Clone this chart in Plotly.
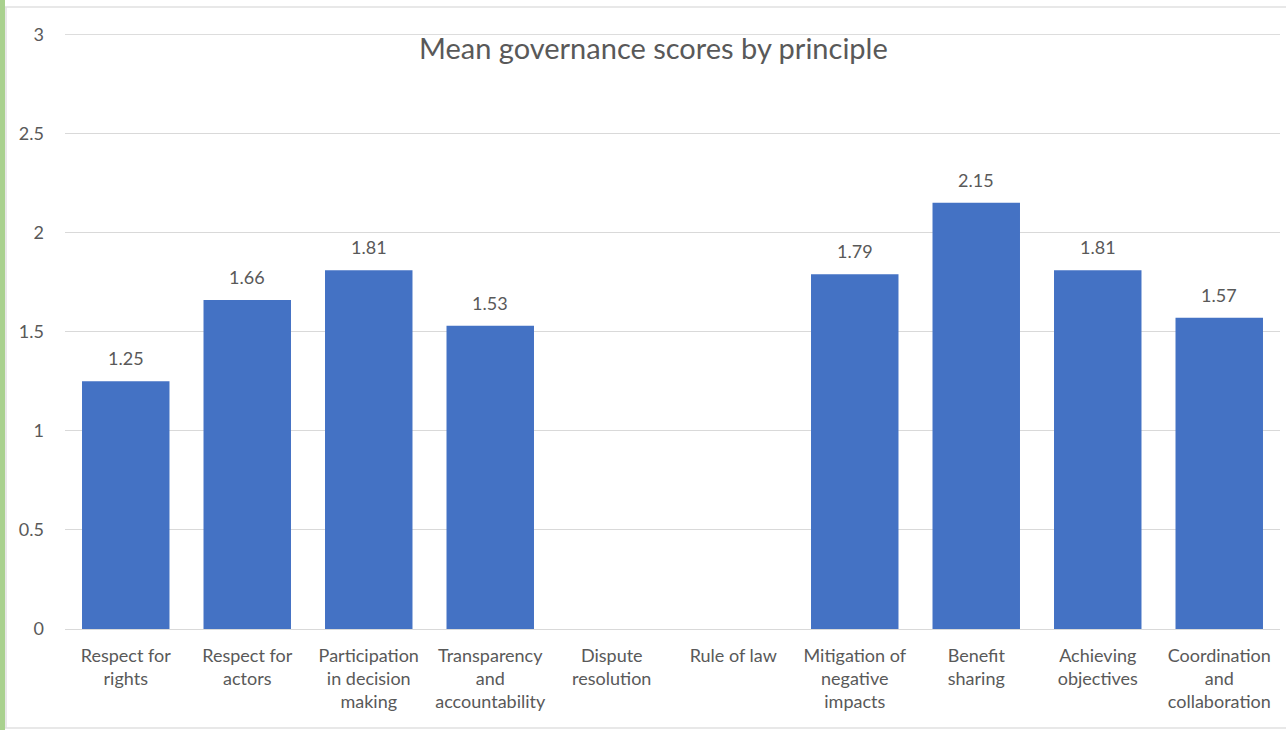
import plotly.graph_objects as go

categories = ["Respect for<br>rights", "Respect for<br>actors", "Participation<br>in decision<br>making",
              "Transparency<br>and<br>accountability", "Dispute<br>resolution", "Rule of law",
              "Mitigation of<br>negative<br>impacts", "Benefit<br>sharing", "Achieving<br>objectives",
              "Coordination<br>and<br>collaboration"]
values = [1.25, 1.66, 1.81, 1.53, None, None, 1.79, 2.15, 1.81, 1.57]
labels = ["1.25", "1.66", "1.81", "1.53", "", "", "1.79", "2.15", "1.81", "1.57"]
y_ticks = [0, 0.5, 1, 1.5, 2, 2.5, 3]
y_tick_labels = ["0", "0.5", "1", "1.5", "2", "2.5", "3"]

W, H = 1286, 730
ML, MR, MT, MB = 65, 6, 34, 101
PW, PH = W - ML - MR, H - MT - MB

def px_x(p):
    return (p - ML) / PW

def px_y(p):
    return (H - MB - p) / PH

FONT = "Lato, 'Open Sans', sans-serif"
GRAY = "#595959"

fig = go.Figure(go.Bar(
    x=categories, y=values,
    marker=dict(color="#4472c4", line=dict(width=0)),
    width=0.72,
))

annotations = [dict(text="Mean governance scores by principle", xref="paper", yref="paper",
                    x=px_x(653), y=px_y(47), xanchor="center", yanchor="middle",
                    showarrow=False, font=dict(size=29, color=GRAY, family=FONT))]
for c, v, t in zip(categories, values, labels):
    if v is None or not t:
        continue
    annotations.append(dict(x=c, y=v, xref="x", yref="y", text=t, showarrow=False,
                            yanchor="middle", yshift=23,
                            font=dict(size=18, color=GRAY, family=FONT)))

fig.update_layout(
    width=W, height=H,
    margin=dict(l=ML, r=MR, t=MT, b=MB),
    paper_bgcolor="white", plot_bgcolor="white",
    showlegend=False,
    font=dict(family=FONT, color=GRAY, size=18),
    xaxis=dict(showgrid=False, showline=True, linecolor="#d9d9d9", linewidth=1,
               tickfont=dict(size=18, color=GRAY), ticks="", tickangle=0,
               ticklabelstandoff=10),
    yaxis=dict(range=[0, 3.002], tickvals=y_ticks, ticktext=y_tick_labels,
               showgrid=True, gridcolor="#d9d9d9", gridwidth=1, zeroline=False,
               showline=False, ticks="", ticklabelstandoff=20,
               tickfont=dict(size=18, color=GRAY)),
    annotations=annotations,
    shapes=[
        dict(type="line", xref="paper", yref="y", x0=0, x1=1, y0=y_ticks[-1], y1=y_ticks[-1],
             line=dict(color="#d9d9d9", width=1), layer="below"),
        dict(type="rect", xref="paper", yref="paper", x0=px_x(0), x1=px_x(5),
             y0=px_y(H), y1=px_y(0), fillcolor="#a9d18e", line=dict(width=0), layer="above"),
        dict(type="line", xref="paper", yref="paper", x0=px_x(5), x1=px_x(W),
             y0=px_y(7), y1=px_y(7), line=dict(color="#e0e0e0", width=1.5)),
        dict(type="line", xref="paper", yref="paper", x0=px_x(5), x1=px_x(W),
             y0=px_y(728), y1=px_y(728), line=dict(color="#e0e0e0", width=1.5)),
        dict(type="line", xref="paper", yref="paper", x0=px_x(6), x1=px_x(6),
             y0=px_y(7), y1=px_y(728), line=dict(color="#e0e0e0", width=1.5)),
    ],
)

fig.write_html("out.html", config={"displayModeBar": False},
               post_script="document.body.style.margin='0';document.body.style.overflow='hidden';")
